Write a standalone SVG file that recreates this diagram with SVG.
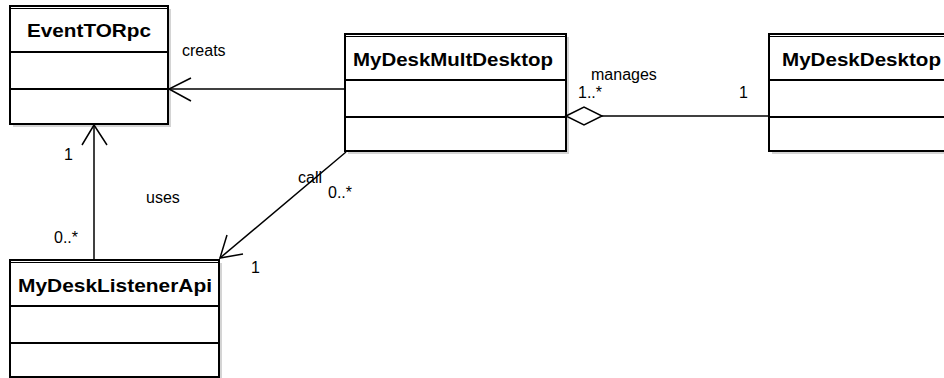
<svg xmlns="http://www.w3.org/2000/svg" width="944" height="378" viewBox="0 0 944 378">
<style>
.box{fill:#fff;stroke:#000;stroke-width:2}
.shadow{fill:#d4d4d4}
.div{stroke:#000;stroke-width:2}
.dbl{stroke:#000;stroke-width:1}
.title{font-family:"Liberation Sans",Arial,sans-serif;font-weight:bold;font-size:18px;fill:#000}
.lbl{font-family:"Liberation Sans",Arial,sans-serif;font-size:16px;fill:#000}
.conn{stroke:#000;stroke-width:1.5;fill:none}
</style>
<rect width="944" height="378" fill="#fff"/>
<g id="EventTORpc">
<rect class="shadow" x="13" y="9" width="158" height="118"/>
<rect class="box" x="10" y="6" width="158" height="118"/>
<line class="dbl" x1="10" y1="8.5" x2="168" y2="8.5"/>
<line class="div" x1="10" y1="52" x2="168" y2="52"/>
<line class="div" x1="10" y1="89" x2="168" y2="89"/>
<text class="title" x="27" y="37" textLength="124" lengthAdjust="spacingAndGlyphs">EventTORpc</text>
</g>
<g id="MyDeskMultDesktop">
<rect class="shadow" x="348" y="37" width="221" height="117"/>
<rect class="box" x="345" y="34" width="221" height="117"/>
<line class="dbl" x1="345" y1="36.5" x2="566" y2="36.5"/>
<line class="div" x1="345" y1="80" x2="566" y2="80"/>
<line class="div" x1="345" y1="117" x2="566" y2="117"/>
<text class="title" x="353" y="66" textLength="200" lengthAdjust="spacingAndGlyphs">MyDeskMultDesktop</text>
</g>
<g id="MyDeskDesktop">
<rect class="shadow" x="772" y="37" width="180" height="117"/>
<rect class="box" x="769" y="34" width="180" height="117"/>
<line class="dbl" x1="769" y1="36.5" x2="949" y2="36.5"/>
<line class="div" x1="769" y1="80" x2="949" y2="80"/>
<line class="div" x1="769" y1="117" x2="949" y2="117"/>
<text class="title" x="782" y="66" textLength="159" lengthAdjust="spacingAndGlyphs">MyDeskDesktop</text>
</g>
<g id="MyDeskListenerApi">
<rect class="shadow" x="13" y="263" width="209" height="120"/>
<rect class="box" x="10" y="260" width="209" height="117"/>
<line class="dbl" x1="10" y1="262.5" x2="219" y2="262.5"/>
<line class="div" x1="10" y1="306" x2="219" y2="306"/>
<line class="div" x1="10" y1="343" x2="219" y2="343"/>
<text class="title" x="18" y="292" textLength="194" lengthAdjust="spacingAndGlyphs">MyDeskListenerApi</text>
</g>
<g id="connectors">
<line class="conn" x1="345" y1="89" x2="169" y2="89"/>
<polyline class="conn" points="191,78 169,89 191,101"/>
<line class="conn" x1="94" y1="260" x2="94" y2="125"/>
<polyline class="conn" points="82,145 94,125 107,145"/>
<line class="conn" x1="346" y1="152" x2="220" y2="258"/>
<polyline class="conn" points="227,235 220,258 243,254"/>
<line class="conn" x1="602" y1="116" x2="769" y2="116"/>
<polygon class="conn" points="566,116 584,107 602,116 584,125" style="fill:#fff"/>
</g>
<g id="labels">
<text class="lbl" x="182" y="56">creats</text>
<text class="lbl" x="591" y="80">manages</text>
<text class="lbl" x="578" y="98">1..*</text>
<text class="lbl" x="739" y="98">1</text>
<text class="lbl" x="64" y="160">1</text>
<text class="lbl" x="146" y="203">uses</text>
<text class="lbl" x="54" y="243">0..*</text>
<text class="lbl" x="298" y="183">call</text>
<text class="lbl" x="328" y="198">0..*</text>
<text class="lbl" x="251" y="273">1</text>
</g>
</svg>
